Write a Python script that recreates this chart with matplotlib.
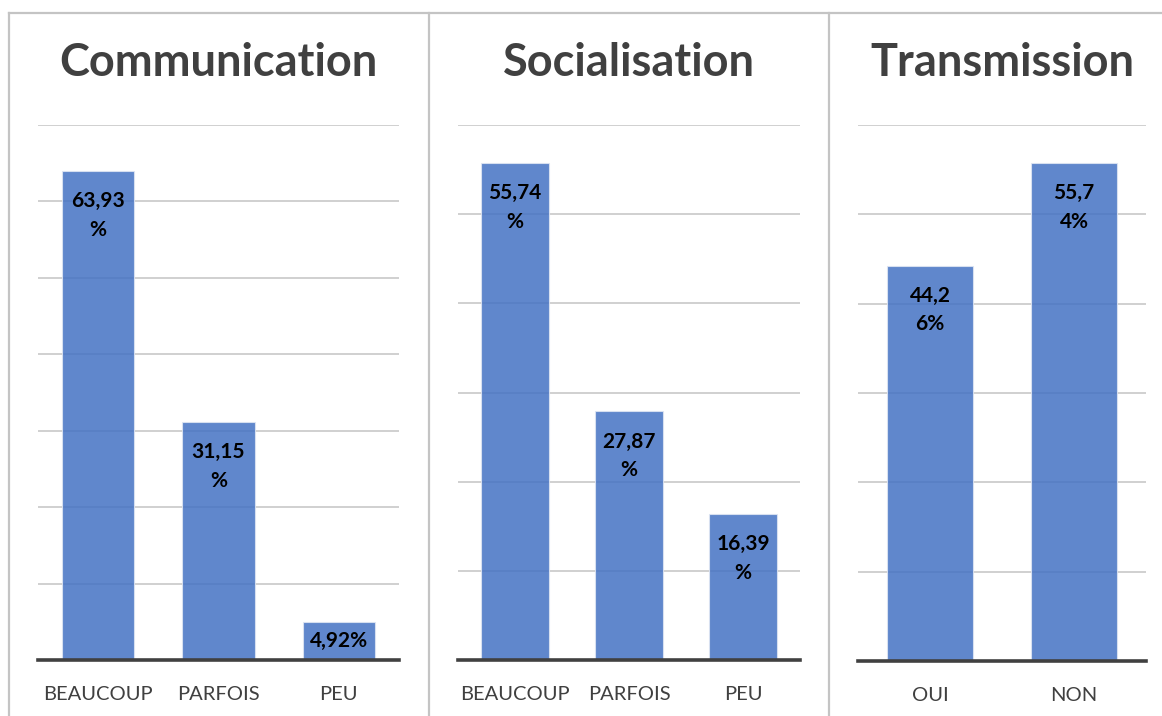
import matplotlib.pyplot as plt
from matplotlib.lines import Line2D

plt.rcParams['font.family'] = ['Lato', 'DejaVu Sans']

# data
titles = ['Communication', 'Socialisation', 'Transmission']
cats_com = ['BEAUCOUP', 'PARFOIS', 'PEU']
vals_com = [63.93, 31.15, 4.92]
labels_com = ['63,93\n%', '31,15\n%', '4,92%']
cats_soc = ['BEAUCOUP', 'PARFOIS', 'PEU']
vals_soc = [55.74, 27.87, 16.39]
labels_soc = ['55,74\n%', '27,87\n%', '16,39\n%']
cats_tra = ['OUI', 'NON']
vals_tra = [44.26, 55.74]
labels_tra = ['44,2\n6%', '55,7\n4%']

W, H = 1162, 716
fig = plt.figure(figsize=(W / 100, H / 100), dpi=100)

# axes boxes in pixels: left, right, top(grid max), bottom(baseline)
boxes = [(38, 399, 125, 660), (458, 800, 125, 660), (858, 1146, 125, 661)]
ymaxes = [70, 60, 60]
panels = [(cats_com, vals_com, labels_com),
          (cats_soc, vals_soc, labels_soc),
          (cats_tra, vals_tra, labels_tra)]

bar_color = '#4472C4'
for (l, r, t, b), ymax, title, (cats, vals, labs) in zip(boxes, ymaxes, titles, panels):
    ax = fig.add_axes([l / W, 1 - b / H, (r - l) / W, (b - t) / H])
    x = range(len(cats))
    ax.bar(x, vals, width=0.6, color=bar_color, alpha=0.85,
           edgecolor='#dfe6f3', linewidth=0.8, zorder=2)
    ax.set_xlim(-0.5, len(cats) - 0.5)
    ax.set_ylim(0, ymax)
    ax.set_yticks(range(10, ymax + 1, 10))
    ax.yaxis.grid(True, color='#c8c8c8', linewidth=1.2, zorder=1)
    ax.set_axisbelow(True)
    ax.tick_params(axis='y', left=False, labelleft=False)
    ax.tick_params(axis='x', bottom=False, labelsize=14.5, labelcolor='#404040', pad=15)
    ax.set_xticks(list(x))
    ax.set_xticklabels(cats)
    for s in ['top', 'right', 'left']:
        ax.spines[s].set_visible(False)
    ax.spines['bottom'].set_color('#404040')
    ax.spines['bottom'].set_linewidth(2.6)
    ax.spines['bottom'].set_zorder(4)
    px_per_unit = (b - t) / ymax
    for xi, v, lab in zip(x, vals, labs):
        if v * px_per_unit < 60:
            ax.text(xi, v / 2, lab, ha='center', va='center', fontsize=15,
                    fontweight='bold', color='black', zorder=5)
        else:
            ax.annotate(lab, (xi, v), xytext=(0, -20), textcoords='offset pixels',
                        ha='center', va='top', fontsize=15, fontweight='bold',
                        color='black', linespacing=1.55, zorder=5)
    ax.text(0.5, (b - 63) / (b - t), title, transform=ax.transAxes, ha='center',
            va='center', fontsize=32.5, fontweight='bold', color='#404040')

# frame lines between panels
border = '#c4c4c4'
fig.add_artist(Line2D([9 / W, 1], [1 - 13 / H] * 2, color=border, linewidth=1.6))
for xp in [9, 429, 829]:
    fig.add_artist(Line2D([xp / W] * 2, [0, 1 - 13 / H], color=border, linewidth=1.6))

fig.savefig('out.png', dpi=100)
